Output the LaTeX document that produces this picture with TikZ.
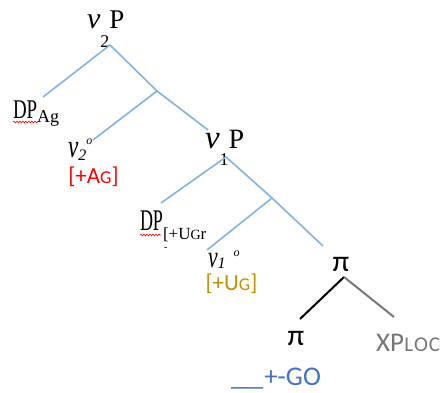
\documentclass[tikz,border=0pt]{standalone}
\usepackage{fontspec}
\setmainfont{Liberation Serif}
\newfontfamily\calfont{Carlito}
\usetikzlibrary{decorations.pathmorphing}
\newcommand{\fsz}[1]{\fontsize{#1}{#1}\selectfont}
\definecolor{treeblue}{RGB}{130,178,225}
\definecolor{featred}{RGB}{255,0,0}
\definecolor{featgold}{RGB}{191,144,0}
\definecolor{featblue}{RGB}{68,114,196}
\definecolor{featgray}{RGB}{118,118,118}
\begin{document}
\begin{tikzpicture}[x=1pt,y=-1pt,
  lbl/.style={inner sep=0pt,outer sep=0pt,anchor=base west},
  feat/.style={inner sep=0pt,outer sep=0pt,anchor=center,font=\calfont\fsz{23}},
  branch/.style={draw=treeblue,line width=1.6pt},
  wave/.style={draw=featred,line width=0.6pt,decorate,decoration={snake,amplitude=0.9pt,segment length=3pt}}]
\useasboundingbox (0,0) rectangle (444,392);
% labels
\node[lbl] (v2P) at (87,28) {\fsz{30}\textit{v}\raisebox{-19pt}{\fsz{18}2}{\fsz{27}P}};
\node[lbl] (DPag) at (13,118) {\scalebox{0.7}[1]{\fsz{27}DP}\raisebox{-4pt}{\fsz{18}Ag}};
\node[lbl] (v2o) at (68,157) {\scalebox{0.7}[1]{\fsz{33}\textit{v}}\raisebox{-3pt}{\fsz{16}\textit{2}}\raisebox{13pt}{\fsz{12}\textit{o}}};
\node[feat,text=featred] (AG) at (93.5,177) {[+A{\fsz{18}G}]};
\node[lbl] (v1P) at (205,148) {\fsz{33}\textit{v}\raisebox{-17pt}{\fsz{18}1}{\fsz{28}P}};
\node[lbl] (DPu) at (140,230) {\scalebox{0.6}[1]{\fsz{30}DP}\raisebox{-9pt}{\fsz{17}[+U{\fsz{14}G}r}};
\node[lbl] (dash) at (164,250) {\fsz{10}-};
\node[lbl] (v1o) at (208,267) {\scalebox{0.7}[1]{\fsz{31}\textit{v}}\raisebox{-1pt}{\fsz{16}\textit{1}}\hspace{8pt}\raisebox{11pt}{\fsz{12}\textit{o}}};
\node[feat,text=featgold] (UG) at (231.5,284) {[+U{\fsz{18}G}]};
\node[feat,font=\calfont\fsz{30}] (piT) at (341,264) {π};
\node[feat,font=\calfont\fsz{30}] (piB) at (296,338) {π};
\node[feat,text=featgray,font=\calfont\fsz{27}] (XP) at (408,343) {XP\hspace{0.5pt}{\fsz{21}L\hspace{0.8pt}O\hspace{0.8pt}C}};
\node[lbl,font=\calfont\fsz{27},text=featblue] (GO) at (231,385) {\scalebox{1.2}[1]{\_\_}\hspace{1pt}+-GO};
% wavy spell marks
\coordinate (w1a) at (13,122); \coordinate (w1b) at (38,122);
\coordinate (w2a) at (140,235); \coordinate (w2b) at (161,235);
\path[wave] (w1a) -- (w1b);
\path[wave] (w2a) -- (w2b);
% tree points
\coordinate (apex2) at (110,45);
\coordinate (dpagE) at (43,97);
\coordinate (bar2) at (157,91);
\coordinate (v2oE) at (93,140);
\coordinate (v1PE) at (208,130);
\coordinate (apex1) at (226,157);
\coordinate (dpuE) at (161,203);
\coordinate (bar1) at (272,198);
\coordinate (v1oE) at (207,250);
\coordinate (piE) at (323,246);
\coordinate (piTb) at (344,277);
\coordinate (piBt) at (300,319);
\coordinate (xpT) at (394,317);
\draw[branch] (apex2) -- (dpagE);
\draw[branch] (apex2) -- (bar2) -- (v1PE);
\draw[branch] (bar2) -- (v2oE);
\draw[branch] (apex1) -- (dpuE);
\draw[branch] (apex1) -- (bar1) -- (piE);
\draw[branch] (bar1) -- (v1oE);
\draw[line width=2pt,black] (piTb) -- (piBt);
\draw[line width=2pt,featgray] (piTb) -- (xpT);
\end{tikzpicture}
\end{document}
